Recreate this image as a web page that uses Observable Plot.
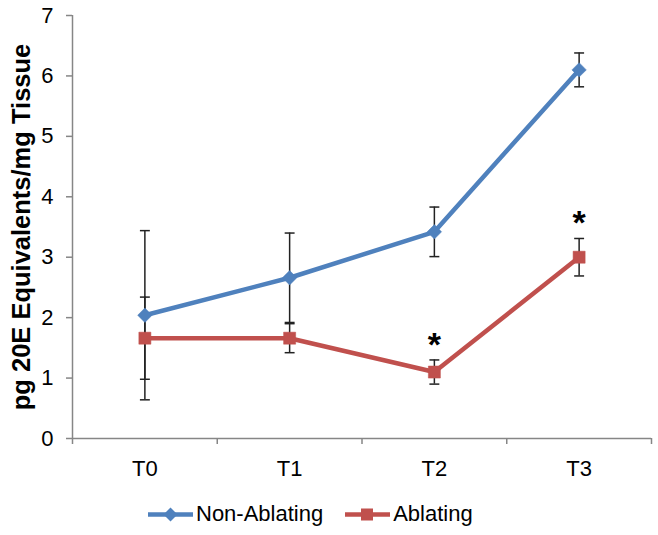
<!DOCTYPE html>
<html><head><meta charset="utf-8">
<script src="https://cdn.jsdelivr.net/npm/d3@7"></script>
<script src="https://cdn.jsdelivr.net/npm/@observablehq/plot@0.6"></script>
<style>
body{margin:0;background:#fff;font-family:"Liberation Sans",Arial,sans-serif;}
#wrap{position:relative;width:658px;height:535px;}
#legend{position:absolute;top:501px;left:148px;display:flex;align-items:center;font-size:22px;color:#000;white-space:nowrap;}
#legend .item{display:flex;align-items:center;margin-right:22px;}
#legend svg{margin-right:3px;}
</style></head><body><div id="wrap"></div>
<script>
const categories = ["T0","T1","T2","T3"];
const seriesNames = ["Non-Ablating","Ablating"];
const nonAblating = [2.04, 2.66, 3.42, 6.10];
const nonAblatingErr = [1.40, 0.74, 0.41, 0.28];
const ablating = [1.66, 1.66, 1.10, 3.00];
const ablatingErr = [0.68, 0.24, 0.20, 0.31];
const significant = [false, false, true, true]; // "*" above Ablating
const yTicks = [0,1,2,3,4,5,6,7];
const colors = ["#4F81BD", "#C0504D"];
const symbols = ["diamond2", "square"];

const rows = [];
[[nonAblating, nonAblatingErr], [ablating, ablatingErr]].forEach(([vals, errs], s) => {
  vals.forEach((v, i) => rows.push({series: seriesNames[s], s, i, cat: categories[i], value: v, err: errs[i], sig: s === 1 && significant[i]}));
});

const capSymbol = {draw(ctx, size) { const w = Math.sqrt(size); ctx.moveTo(-w/2, 0); ctx.lineTo(w/2, 0); }};
const axisGray = "#868686";
const font = "Liberation Sans, Arial, sans-serif";
const boundaries = d3.range(categories.length + 1).map(k => k - 0.5);

const markerMarks = seriesNames.map((name, s) =>
  Plot.dot(rows.filter(d => d.s === s), {x: "i", y: "value", symbol: symbols[s], fill: colors[s], stroke: colors[s], strokeWidth: 0.5, r: s === 0 ? 6.5 : 6.8})
);

const chart = Plot.plot({
  width: 658, height: 490,
  marginLeft: 72, marginRight: 7, marginTop: 15, marginBottom: 52,
  style: {fontFamily: font, background: "#fff", color: "#000"},
  x: {type: "linear", domain: [-0.5, categories.length - 0.5], axis: null},
  y: {domain: [0, 7], axis: null},
  color: {domain: seriesNames, range: colors},
  marks: [
    Plot.ruleY([0], {stroke: axisGray, strokeWidth: 1.5}),
    Plot.ruleX([-0.5], {y1: 0, y2: 7, stroke: axisGray, strokeWidth: 1.5}),
    Plot.axisX({ticks: boundaries, tickSize: 6, tickFormat: () => "", stroke: axisGray, strokeWidth: 1.5, label: null}),
    Plot.axisX({ticks: d3.range(categories.length), tickSize: 0, tickPadding: 22, tickFormat: i => categories[i], fontSize: 22, fill: "#000", label: null}),
    Plot.axisY({ticks: yTicks, tickSize: 6, tickPadding: 13, tickFormat: d3.format("d"), fontSize: 22, stroke: axisGray, strokeWidth: 1.5, fill: "#000", label: null}),
    Plot.text(["pg 20E Equivalents/mg Tissue"], {frameAnchor: "left", rotate: -90, dx: -51, textAnchor: "middle", lineAnchor: "middle", fontSize: 25.5, fontWeight: "bold", fill: "#000"}),
    Plot.line(rows, {x: "i", y: "value", z: "series", stroke: "series", strokeWidth: 4.5}),
    Plot.ruleX(rows, {x: "i", y1: d => d.value - d.err, y2: d => d.value + d.err, stroke: "#222", strokeWidth: 1.5}),
    Plot.dot(rows, {x: "i", y: d => d.value + d.err, symbol: capSymbol, r: 5.6, stroke: "#222", strokeWidth: 1.5, fill: "none"}),
    Plot.dot(rows, {x: "i", y: d => d.value - d.err, symbol: capSymbol, r: 5.6, stroke: "#222", strokeWidth: 1.5, fill: "none"}),
    ...markerMarks,
    Plot.text(rows.filter(d => d.sig), {x: "i", y: d => d.value + d.err, text: () => "*", dy: -15, fontSize: 34, fontWeight: "bold", fill: "#000", lineAnchor: "middle"})
  ]
});
const wrap = document.getElementById("wrap");
wrap.appendChild(chart);

const legend = document.createElement("div");
legend.id = "legend";
seriesNames.forEach((name, s) => {
  const item = document.createElement("div");
  item.className = "item";
  const marker = s === 0
    ? `<path d="M22.5,1.5 L29.5,8.5 L22.5,15.5 L15.5,8.5 Z" fill="${colors[s]}"/>`
    : `<rect x="16" y="2.5" width="12" height="12" fill="${colors[s]}"/>`;
  item.innerHTML = `<svg width="45" height="17"><line x1="0" x2="45" y1="8.5" y2="8.5" stroke="${colors[s]}" stroke-width="4.5" stroke-linecap="round"/>${marker}</svg><span>${name}</span>`;
  legend.appendChild(item);
});
wrap.appendChild(legend);
</script></body></html>
